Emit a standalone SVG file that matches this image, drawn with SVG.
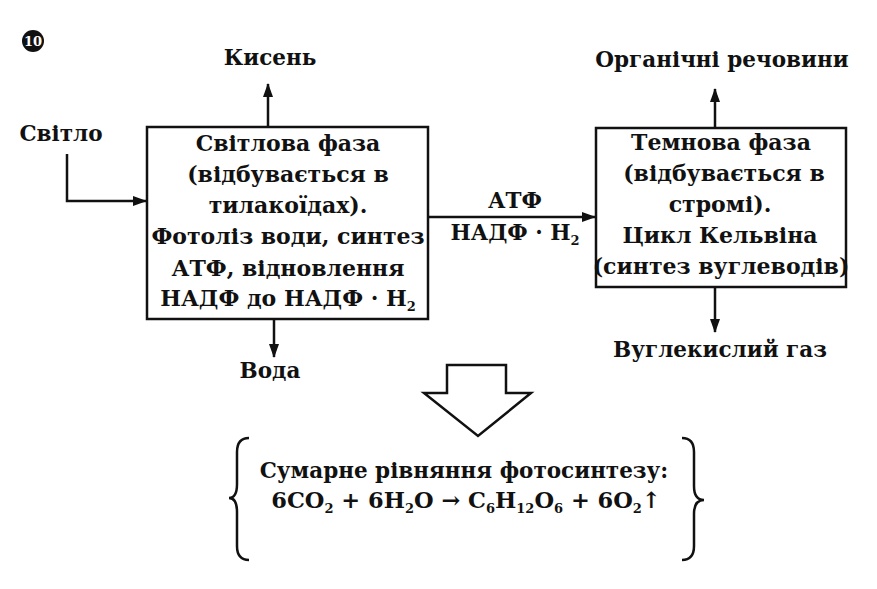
<svg xmlns="http://www.w3.org/2000/svg" width="877" height="589" viewBox="0 0 877 589">
<defs>
<marker id="ah" viewBox="0 0 14 10" refX="13" refY="5" markerWidth="14" markerHeight="10" markerUnits="userSpaceOnUse" orient="auto">
<path d="M0,0 L14,5 L0,10 Z" fill="#111"/>
</marker>
</defs>
<style>
text{font-family:"DejaVu Serif","Liberation Serif",serif;font-weight:bold;font-size:21.5px;fill:#111;text-anchor:middle}
.bx{font-size:22px}
.sub{font-size:13px}
.box{fill:#fff;stroke:#111;stroke-width:2.5}
.ln{fill:none;stroke:#111;stroke-width:2.5}
</style>
<rect width="877" height="589" fill="#fff"/>
<g id="badge">
<circle cx="33" cy="41" r="11" fill="#111"/>
<text x="33" y="46" style="fill:#fff;font-size:13px">10</text>
</g>
<g id="connectors">
<line class="ln" x1="268" y1="127" x2="268" y2="84" marker-end="url(#ah)"/>
<polyline class="ln" points="67,154 67,201 146,201" marker-end="url(#ah)"/>
<line class="ln" x1="274" y1="320" x2="274" y2="357" marker-end="url(#ah)"/>
<line class="ln" x1="428" y1="217" x2="595" y2="217" marker-end="url(#ah)"/>
<line class="ln" x1="715" y1="128" x2="715" y2="89" marker-end="url(#ah)"/>
<line class="ln" x1="715" y1="287" x2="715" y2="332" marker-end="url(#ah)"/>
</g>
<g id="light">
<text x="61" y="141">Світло</text>
</g>
<g id="oxygen">
<text x="270" y="65">Кисень</text>
</g>
<g id="water">
<text x="270" y="378">Вода</text>
</g>
<g id="light-phase">
<rect class="box" x="147" y="127" width="281" height="192"/>
<text class="bx" x="288" y="151">Світлова фаза</text>
<text class="bx" x="288" y="182">(відбувається в</text>
<text class="bx" x="288" y="213">тилакоїдах).</text>
<text class="bx" x="288" y="244">Фотоліз води, синтез</text>
<text class="bx" x="288" y="276">АТФ, відновлення</text>
<text class="bx" x="288" y="306">НАДФ до НАДФ · H<tspan class="sub" dy="5">2</tspan></text>
</g>
<g id="transfer">
<text x="515" y="208">АТФ</text>
<text x="515" y="240">НАДФ · H<tspan class="sub" dy="5">2</tspan></text>
</g>
<g id="dark-phase">
<rect class="box" x="596" y="128" width="250" height="159"/>
<text class="bx" x="721" y="150">Темнова фаза</text>
<text class="bx" x="724" y="181">(відбувається в</text>
<text class="bx" x="720" y="212">стромі).</text>
<text class="bx" x="720" y="243">Цикл Кельвіна</text>
<text class="bx" x="721" y="274">(синтез вуглеводів)</text>
</g>
<g id="organic">
<text x="722" y="67">Органічні речовини</text>
</g>
<g id="co2">
<text x="720" y="357">Вуглекислий газ</text>
</g>
<g id="big-arrow">
<polygon points="447,365 506,365 506,393 531,393 478,436 424,393 447,393" fill="#fff" stroke="#111" stroke-width="2.5" stroke-linejoin="miter"/>
</g>
<g id="summary">
<path class="ln" d="M249,438 Q237,438 237,452 L237,484 Q237,498 229,498 Q237,498 237,512 L237,546 Q237,560 249,560"/>
<path class="ln" d="M682,438 Q694,438 694,452 L694,486 Q694,500 704,500 Q694,500 694,514 L694,546 Q694,560 682,560"/>
<text x="464" y="478">Сумарне рівняння фотосинтезу:</text>
<text x="466" y="508" style="font-size:22.5px">6CO<tspan class="sub" dy="5">2</tspan><tspan dy="-5"> + 6H</tspan><tspan class="sub" dy="5">2</tspan><tspan dy="-5">O → C</tspan><tspan class="sub" dy="5">6</tspan><tspan dy="-5">H</tspan><tspan class="sub" dy="5">12</tspan><tspan dy="-5">O</tspan><tspan class="sub" dy="5">6</tspan><tspan dy="-5"> + 6O</tspan><tspan class="sub" dy="5">2</tspan><tspan dy="-5">↑</tspan></text>
</g>
</svg>
